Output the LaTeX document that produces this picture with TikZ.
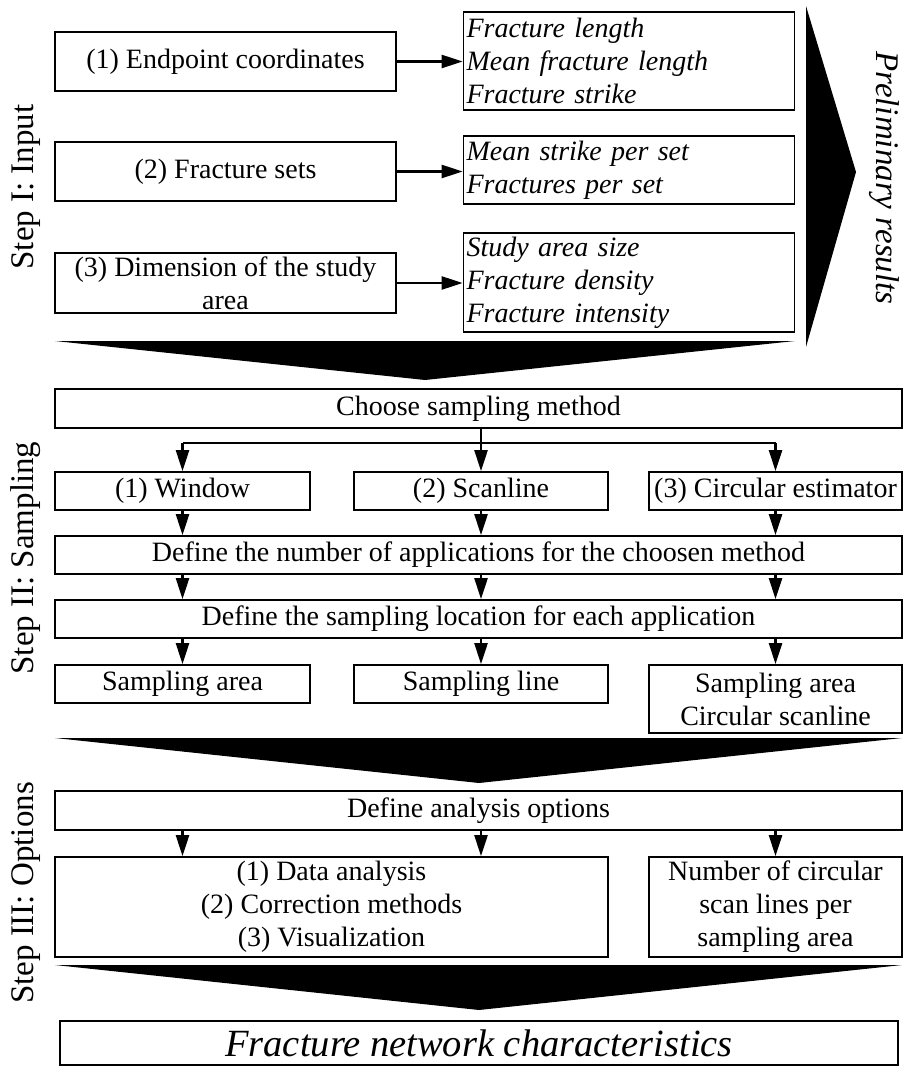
\documentclass[tikz,border=0pt]{standalone}
\usepackage{fontspec}
\setmainfont{Liberation Serif}
\usetikzlibrary{arrows.meta}
\newcommand{\fsz}{\fontsize{28}{33}\selectfont}
\tikzset{
  box/.style={draw, line width=1.8pt, inner sep=2pt, align=center, font=\fsz},
  ibox/.style={draw, line width=1.8pt, inner xsep=3pt, inner ysep=2pt, align=left, font=\fsz\itshape},
  arr/.style={-{Triangle[length=21pt,width=13pt]}, line width=2.5pt},
  plain/.style={line width=2.5pt},
  steplbl/.style={rotate=90, font=\fontsize{33}{38}\selectfont},
  chev/.style={fill=black, draw=none}
}
\begin{document}
\begin{tikzpicture}[x=1pt,y=-1pt]
\useasboundingbox (0,0) rectangle (904,1067);
% ---------- Step I
\node[box, minimum width=341, minimum height=59] (a1) at (225.5,61.5) {(1) Endpoint coordinates};
\node[box, minimum width=341, minimum height=59] (a2) at (225.5,171.5) {(2) Fracture sets};
\node[box, minimum width=341, minimum height=60] (a3) at (225.5,283) {(3) Dimension of the study\\area};
\node[ibox, text width=325, minimum height=98] (b1) at (629,61) {Fracture length\\Mean fracture length\\Fracture strike};
\node[ibox, text width=325, minimum height=68] (b2) at (629,170) {Mean strike per set\\Fractures per set};
\node[ibox, text width=325, minimum height=99] (b3) at (629,282.5) {Study area size\\Fracture density\\Fracture intensity};
\draw[arr] (a1.east) -- (a1.east -| b1.west);
\draw[arr] (a2.east) -- (a2.east -| b2.west);
\draw[arr] (a3.east) -- (a3.east -| b3.west);
\node[steplbl] (s1) at (26,187) {Step I: Input};
% right chevron
\path[chev] (806,6) -- (856,172) -- (806,347) -- cycle;
\node[rotate=-90, font=\fontsize{33}{38}\selectfont\itshape] (pre) at (884,178) {Preliminary results};
% down chevron 1
\path[chev] (55,341) -- (795,341) -- (425,380) -- cycle;
% ---------- Step II
\node[box, minimum width=847, minimum height=39] (choose) at (478.5,408.5) {Choose sampling method};
\node[box, minimum width=255, minimum height=38] (win) at (182.5,491) {(1) Window};
\node[box, minimum width=254, minimum height=38] (scan) at (481,491) {(2) Scanline};
\node[box, minimum width=253, minimum height=38] (circ) at (775.5,491) {(3) Circular estimator};
\node[box, minimum width=847, minimum height=38] (num) at (478.5,555) {Define the number of applications for the choosen method};
\node[box, minimum width=847, minimum height=38] (loc) at (478.5,619) {Define the sampling location for each application};
\node[box, minimum width=255, minimum height=38] (sa) at (182.5,684) {Sampling area};
\node[box, minimum width=254, minimum height=38] (sl) at (481,684) {Sampling line};
\node[box, minimum width=253, minimum height=68] (csl) at (775.5,699) {Sampling area\\Circular scanline};
\coordinate (br) at (481,443);
\draw[plain] (scan.north |- choose.south) -- (br);
\draw[plain] (win.north |- br) -- (circ.north |- br);
\draw[arr] (win.north |- br) -- (win.north);
\draw[arr] (br) -- (scan.north);
\draw[arr] (circ.north |- br) -- (circ.north);
\foreach \n in {win,scan,circ}{
  \draw[arr] (\n.south) -- (\n.south |- num.north);
  \draw[arr] (\n.south |- num.south) -- (\n.south |- loc.north);
}
\draw[arr] (win.south |- loc.south) -- (sa.north);
\draw[arr] (scan.south |- loc.south) -- (sl.north);
\draw[arr] (circ.south |- loc.south) -- (csl.north);
\node[steplbl] (s2) at (26,558) {Step II: Sampling};
% down chevron 2
\path[chev] (55,738) -- (902,738) -- (479,783) -- cycle;
% ---------- Step III
\node[box, minimum width=847, minimum height=39] (opt) at (478.5,810.5) {Define analysis options};
\node[box, minimum width=553, minimum height=100] (big) at (331.5,907) {(1) Data analysis\\(2) Correction methods\\(3) Visualization};
\node[box, minimum width=253, minimum height=100] (ncs) at (775.5,907) {Number of circular\\scan lines per\\sampling area};
\draw[arr] (win.south |- opt.south) -- (win.south |- big.north);
\draw[arr] (scan.south |- opt.south) -- (scan.south |- big.north);
\draw[arr] (circ.south |- opt.south) -- (ncs.north);
\node[steplbl] (s3) at (26,893) {Step III: Options};
% down chevron 3
\path[chev] (55,965) -- (902,965) -- (479,1010) -- cycle;
\node[box, minimum width=838, minimum height=44, font=\fontsize{38.5}{44}\selectfont\itshape] (fin) at (479,1043) {Fracture network characteristics};
\end{tikzpicture}
\end{document}
